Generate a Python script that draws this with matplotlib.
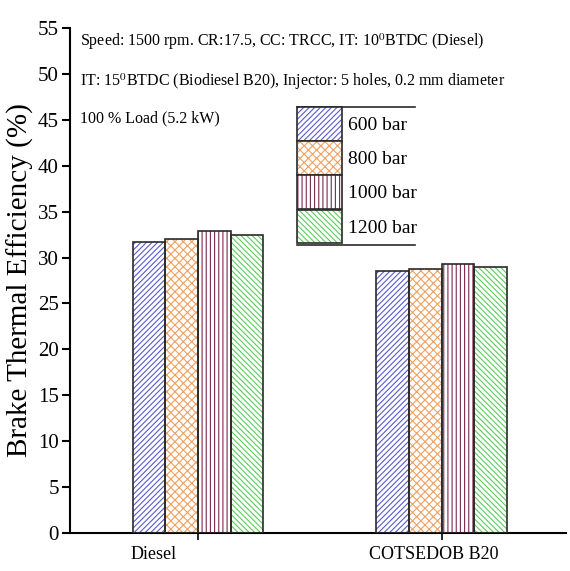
import matplotlib
matplotlib.use("Agg")
import matplotlib.pyplot as plt
import numpy as np
from matplotlib.patches import Patch
from matplotlib.legend_handler import HandlerTuple
from matplotlib.lines import Line2D
from matplotlib.transforms import ScaledTranslation

plt.rcParams['font.family'] = ['Liberation Serif', 'DejaVu Serif']
plt.rcParams['mathtext.fontset'] = 'stix'
plt.rcParams['hatch.linewidth'] = 0.8

categories = ["Diesel", "COTSEDOB B20"]
series_labels = ["600 bar", "800 bar", "1000 bar", "1200 bar"]
values = {
    "600 bar": [31.7, 28.5],
    "800 bar": [32.0, 28.8],
    "1000 bar": [32.9, 29.3],
    "1200 bar": [32.5, 29.0],
}
yticks = list(range(0, 60, 5))

hatch_colors = ["#5a5ad0", "#f0a060", "#7a2a50", "#5ccc5c"]
hatches = ["//////", "xxxx", "||||", "\\\\\\\\\\\\"]
edge_dark = "#2a2a2a"

fig = plt.figure(figsize=(5.70, 5.71), dpi=100)
ax = fig.add_axes([0.123, 0.0665, 0.87, 0.8845])

x = np.arange(1, len(categories) + 1)
w = 0.134
handles = []
for i, lab in enumerate(series_labels):
    pos = x + (i - 1.5) * w
    ax.bar(pos, values[lab], width=w, color="white", edgecolor=hatch_colors[i],
           hatch=hatches[i], linewidth=0, zorder=2)
    ax.bar(pos, values[lab], width=w, color="none", edgecolor=edge_dark,
           linewidth=1.2, zorder=3)
    h1 = Patch(facecolor="white", edgecolor=hatch_colors[i], hatch=hatches[i], linewidth=0)
    h2 = Patch(facecolor="none", edgecolor=edge_dark, linewidth=1.2)
    handles.append((h1, h2))

ax.set_xlim(0.475, 2.51)
ax.set_ylim(0, 55)
ax.set_yticks(yticks)
ax.set_xticks(x)
ax.set_xticklabels(categories, fontsize=13)
ax.tick_params(axis='y', labelsize=15, direction='out', length=6, width=1.5, pad=2)
ax.tick_params(axis='x', direction='inout', length=10, width=1.2, pad=4)
shifts = [-44, -8]
for lbl, s in zip(ax.get_xticklabels(), shifts):
    lbl.set_transform(lbl.get_transform() + ScaledTranslation(s / 100, 0, fig.dpi_scale_trans))
ax.spines['top'].set_visible(False)
ax.spines['right'].set_visible(False)
ax.spines['left'].set_linewidth(1.5)
ax.spines['bottom'].set_linewidth(1.5)
ax.set_ylabel("Brake Thermal Efficiency (%)", fontsize=21, labelpad=3)

ax.text(0.02, 53.5, r"Speed: 1500 rpm. CR:17.5, CC: TRCC, IT: 10$^{\mathrm{0}}$BTDC (Diesel)",
        transform=ax.get_yaxis_transform(), fontsize=11.5, va='center')
ax.text(0.02, 49.2, r"IT: 15$^{\mathrm{0}}$BTDC (Biodiesel B20), Injector: 5 holes, 0.2 mm diameter",
        transform=ax.get_yaxis_transform(), fontsize=11.5, va='center')
ax.text(0.02, 45.2, "100 % Load (5.2 kW)",
        transform=ax.get_yaxis_transform(), fontsize=11.5, va='center')

leg = ax.legend(handles, series_labels, handler_map={tuple: HandlerTuple(ndivide=1)},
                loc='upper left', bbox_to_anchor=(0.458, 0.8436), frameon=False,
                fontsize=14, handlelength=2.32, handleheight=2.3, labelspacing=0.02,
                handletextpad=0.3, borderpad=0.0, borderaxespad=0)

# top and bottom rules of the legend box
ax.add_line(Line2D([0.458, 0.696], [0.8436, 0.8436], transform=ax.transAxes, color=edge_dark, lw=1.2))
ax.add_line(Line2D([0.458, 0.696], [0.570, 0.570], transform=ax.transAxes, color=edge_dark, lw=1.2))

fig.savefig("out.png", dpi=100)
